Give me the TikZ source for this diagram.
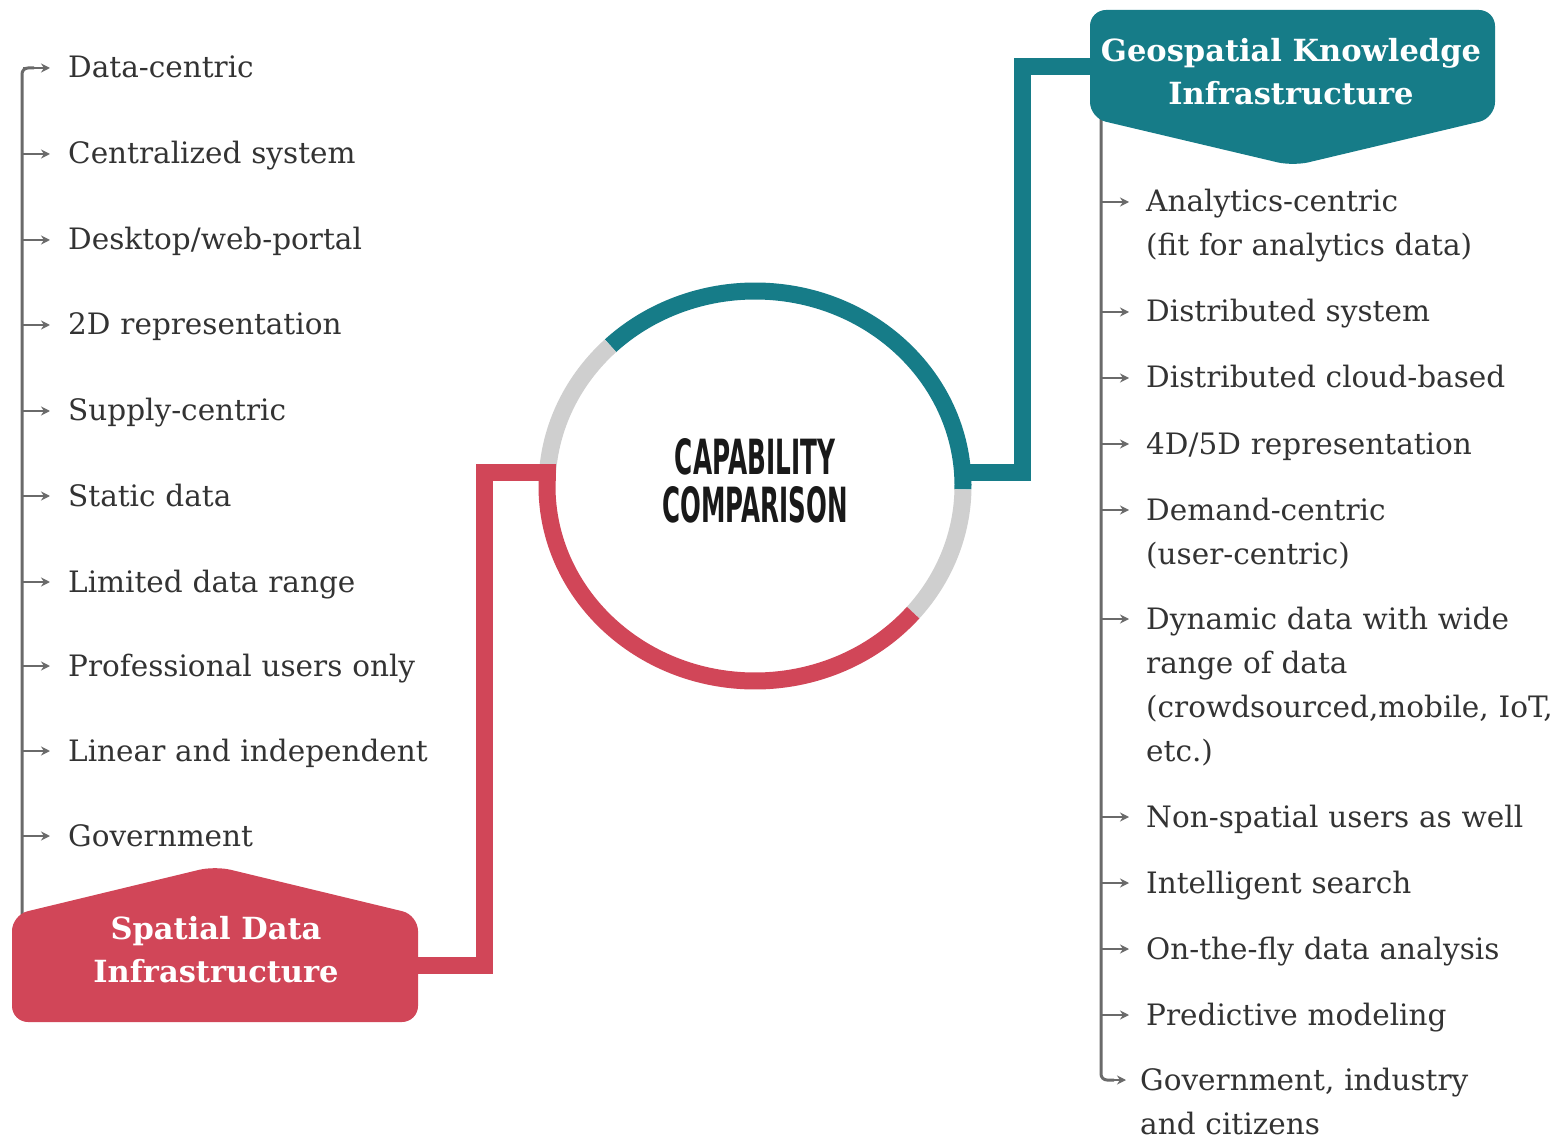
\documentclass[tikz,border=0pt]{standalone}
\usepackage{fontspec}
\setmainfont{DejaVu Serif}
\newfontfamily\capfont{DejaVu Sans}
\usetikzlibrary{arrows.meta}
\definecolor{redc}{HTML}{D14658}
\definecolor{tealc}{HTML}{167C88}
\definecolor{grayarc}{HTML}{CFCFCF}
\definecolor{textc}{HTML}{333333}
\definecolor{linec}{HTML}{6A6A6A}
\begin{document}
\begin{tikzpicture}[x=1pt,y=-1pt,
  txt/.style={font=\fontsize{29.5}{44}\selectfont, text=textc, inner sep=0pt, anchor=base west, align=left, text width=520pt},
  spine/.style={draw=linec, line width=3pt},
  arr/.style={draw=linec, line width=2.2pt, -{Stealth[length=9pt,width=9pt]}},
  ttl/.style={font=\fontsize{30.5}{43}\selectfont\bfseries, text=white, align=center, inner sep=0pt},
  band/.style={line width=17pt},
]
\useasboundingbox[fill=white] (0,0) rectangle (1556,1139);

% ---------- circle ----------
\coordinate (c) at (755,486);
\draw[band, tealc, shift={(c)}] (1:208 and 195) arc[start angle=1, end angle=-134, x radius=208, y radius=195];
\draw[band, grayarc, shift={(c)}] (-134:208 and 195) arc[start angle=-134, end angle=-177, x radius=208, y radius=195];
\draw[band, grayarc, shift={(c)}] (40.5:208 and 195) arc[start angle=40.5, end angle=1, x radius=208, y radius=195];
\draw[band, redc, shift={(c)}] (-177:208 and 195) arc[start angle=-177, end angle=-319.5, x radius=208, y radius=195];

\node[inner sep=0pt, text=black!90] (cap) at (755,457) {\resizebox{160pt}{36pt}{\capfont\bfseries CAPABILITY}};
\node[inner sep=0pt, text=black!90] (cmp) at (755,505) {\resizebox{185pt}{36pt}{\capfont\bfseries COMPARISON}};

% ---------- connectors ----------
\coordinate (sdiR) at (405,965);
\coordinate (rc2) at (484,472);
\coordinate (cL) at (556,472);
\draw[band, redc, line join=miter] (sdiR) -| (rc2) -- (cL);

\coordinate (cR) at (955,472);
\coordinate (tc) at (1022,67);
\coordinate (gkiL) at (1100,67);
\draw[band, tealc, line join=miter] (cR) -| (tc) -- (gkiL);

% ---------- left list ----------
\coordinate (lbot) at (22,930);
\coordinate (ltop) at (34,68);
\draw[spine, rounded corners=6pt] (lbot) |- (ltop);
\foreach \yy/\t in {68/{Data-centric}, 154/{Centralized system}, 240/{Desktop/web-portal}, 325/{2D representation}, 411/{Supply-centric}, 496/{Static data}, 582/{Limited data range}, 666/{Professional users only}, 751/{Linear and independent}, 836/{Government}}{
  \coordinate (ls\yy) at (23,\yy);
  \coordinate (la\yy) at (50,\yy);
  \node[txt] (lt\yy) at (68,\yy+10) {\t};
  \draw[arr] (ls\yy) -- (la\yy);
}

% ---------- right list ----------
\coordinate (rtop) at (1101,110);
\coordinate (rbot) at (1114,1080);
\draw[spine, rounded corners=6pt] (rtop) |- (rbot);
\foreach \yy/\t in {202/{Analytics-centric\\(fit for analytics data)}, 312/{Distributed system}, 378/{Distributed cloud-based}, 444/{4D/5D representation}, 510/{Demand-centric\\(user-centric)}, 619/{Dynamic data with wide\\range of data\\(crowdsourced,mobile, IoT,\\etc.)}, 817/{Non-spatial users as well}, 883/{Intelligent search}, 949/{On-the-fly data analysis}, 1015/{Predictive modeling}}{
  \coordinate (rs\yy) at (1102,\yy);
  \coordinate (ra\yy) at (1129,\yy);
  \node[txt] (rt\yy) at (1146,\yy+10) {\t};
  \draw[arr] (rs\yy) -- (ra\yy);
}
\coordinate (rs1080) at (1108,1080);
\coordinate (ra1080) at (1126,1080);
\node[txt] (rt1080) at (1140,1090) {Government, industry\\and citizens};
\draw[arr] (rs1080) -- (ra1080);

% ---------- title boxes ----------
\fill[redc, rounded corners=16pt] (215,1022) -- (418,1022) -- (418,915) -- (215,866) -- (12,915) -- (12,1022) -- cycle;
\node[ttl] (sdi) at (216,950) {Spatial Data\\Infrastructure};

\fill[tealc, rounded corners=16pt] (1293,10) -- (1495,10) -- (1495,118) -- (1293,166) -- (1090,118) -- (1090,10) -- cycle;
\node[ttl] (gki) at (1291,72) {Geospatial Knowledge\\Infrastructure};
\end{tikzpicture}
\end{document}
